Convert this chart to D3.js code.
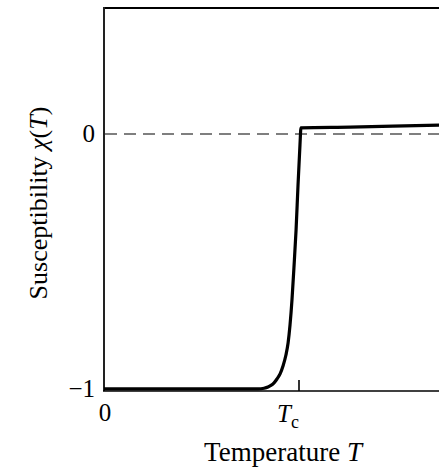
<!DOCTYPE html>
<html>
<head>
<meta charset="utf-8">
<script src="https://cdn.jsdelivr.net/npm/d3@7"></script>
<style>
  html, body { margin: 0; padding: 0; background: #fff; }
  svg { display: block; }
  text { font-family: "Liberation Serif", "DejaVu Serif", serif; fill: #000; }
</style>
</head>
<body>
<svg id="chart" width="439" height="467"></svg>
<script>
// Data (temperature in units of Tc, susceptibility)
const temperature = [0, 0.790, 0.821, 0.841, 0.856, 0.872, 0.887, 0.903, 0.918, 0.933, 0.944, 0.954, 0.964, 0.974, 0.985, 0.995, 1.005, 1.010, 1.262, 1.718, 1.80];
const susceptibility = [-1, -1, -0.997, -0.992, -0.986, -0.976, -0.961, -0.941, -0.910, -0.867, -0.820, -0.749, -0.651, -0.525, -0.376, -0.200, -0.043, 0.024, 0.027, 0.035, 0.036];
const yTickValues = [0, -1];
const yTickLabels = ["0", "\u22121"];
const xTickValues = [0, 1];

const svg = d3.select("#chart");
const x = d3.scaleLinear().domain([0, 1.8]).range([104, 104 + 195 * 1.8]);
const y = d3.scaleLinear().domain([-1.008, 0.494]).range([391, 8]);

// Frame: top and left
svg.append("line").attr("x1", 104).attr("x2", 460).attr("y1", y(0.494)).attr("y2", y(0.494))
  .attr("stroke", "#000").attr("stroke-width", 2);
svg.append("line").attr("x1", 104).attr("x2", 104).attr("y1", y(0.494) - 1).attr("y2", y(-1.008))
  .attr("stroke", "#222").attr("stroke-width", 2);
// Bottom axis line
svg.append("line").attr("x1", 103).attr("x2", 460).attr("y1", y(-1.008)).attr("y2", y(-1.008))
  .attr("stroke", "#000").attr("stroke-width", 1.6);

// Dashed zero line
svg.append("line").attr("x1", 105).attr("x2", 460).attr("y1", y(0)).attr("y2", y(0))
  .attr("stroke", "#555").attr("stroke-width", 1.6).attr("stroke-dasharray", "12,7");

// Tc tick
svg.append("line").attr("x1", x(1)).attr("x2", x(1)).attr("y1", y(-1.008)).attr("y2", y(-1.008) - 11)
  .attr("stroke", "#000").attr("stroke-width", 1.6);

// Curve
const line = d3.line().x((d, i) => x(temperature[i])).y(d => y(d)).curve(d3.curveMonotoneX);
svg.append("path").attr("d", line(susceptibility))
  .attr("fill", "none").attr("stroke", "#000").attr("stroke-width", 3.2)
  .attr("stroke-linejoin", "round");

// Y tick labels
yTickValues.forEach((v, i) => {
  svg.append("text").attr("x", 95).attr("y", y(v) + 8)
    .attr("text-anchor", "end").attr("font-size", 25).text(yTickLabels[i]);
});

// X tick labels
svg.append("text").attr("x", x(0) + 1).attr("y", 421).attr("text-anchor", "middle")
  .attr("font-size", 25).text(xTickValues[0]);
const tc = svg.append("text").attr("x", 277).attr("y", 422).attr("font-size", 25);
tc.append("tspan").attr("font-style", "italic").text("T");
tc.append("tspan").attr("font-size", 18).attr("dy", 6).text("c");

// Axis titles
const xt = svg.append("text").attr("x", 283).attr("y", 461).attr("text-anchor", "middle").attr("font-size", 27);
xt.append("tspan").text("Temperature ");
xt.append("tspan").attr("font-style", "italic").text("T");

const yt = svg.append("text").attr("transform", "translate(47,203) rotate(-90)")
  .attr("text-anchor", "middle").attr("font-size", 26);
yt.append("tspan").text("Susceptibility ");
yt.append("tspan").attr("font-style", "italic").text("\u03C7");
yt.append("tspan").text("(");
yt.append("tspan").attr("font-style", "italic").text("T");
yt.append("tspan").text(")");
</script>
</body>
</html>
